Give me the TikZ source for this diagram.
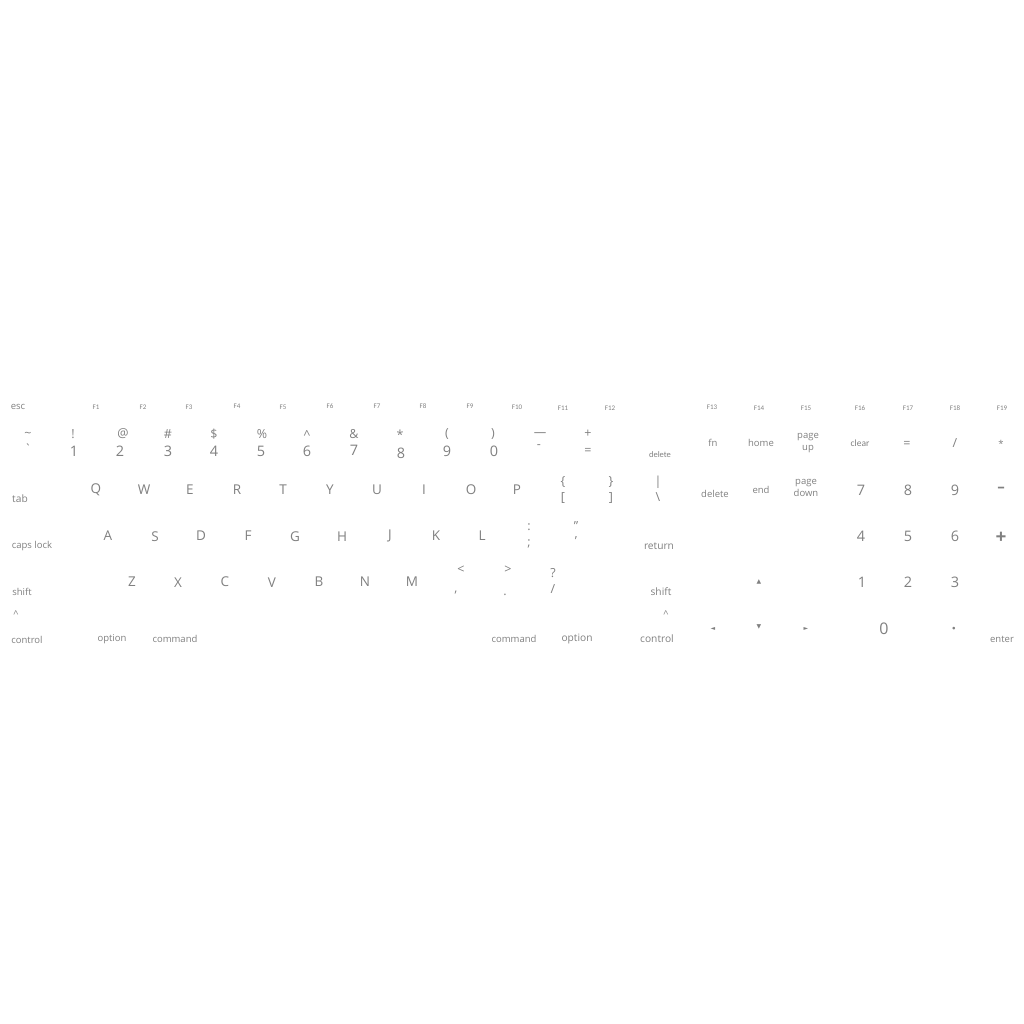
\documentclass[tikz,border=0pt]{standalone}
\usepackage{fontspec}
\setmainfont{Open Sans}
\newfontfamily\rawfont{Open Sans}[Ligatures=ResetAll]
\newfontfamily\fkfont{Carlito}
\newfontfamily\symfont{DejaVu Sans}
\definecolor{keygray}{RGB}{128,128,128}
\begin{document}
\begin{tikzpicture}[x=1pt,y=-1pt,
  every node/.style={text=keygray,inner sep=0pt,outer sep=0pt},
  lbl/.style={font=\fontsize{9.5}{10}\selectfont},
  lblb/.style={font=\fontsize{10.2}{10.5}\selectfont},
  two/.style={font=\fontsize{9.5}{12}\selectfont,align=center},
  fk/.style={font=\fkfont\fontsize{7}{8}\selectfont},
  keyl/.style={font=\fontsize{13.5}{14}\selectfont},
  dig/.style={font=\fontsize{14.5}{15}\selectfont},
  symk/.style={font=\fontsize{12.5}{13}\selectfont},
  arr/.style={font=\symfont\fontsize{6}{7}\selectfont},
]
\useasboundingbox (0,0) rectangle (1024,1024);
% function row
\node[lbl] (esc) at (18,407) {esc};
\node[fk] (f1) at (96,407) {F1};
\node[fk] (f2) at (143,407) {F2};
\node[fk] (f3) at (189,407) {F3};
\node[fk] (f4) at (237,406) {F4};
\node[fk] (f5) at (283,407) {F5};
\node[fk] (f6) at (330,406) {F6};
\node[fk] (f7) at (377,406) {F7};
\node[fk] (f8) at (423,406) {F8};
\node[fk] (f9) at (470,406) {F9};
\node[fk] (f10) at (517,407) {F10};
\node[fk] (f11) at (563,408) {F11};
\node[fk] (f12) at (610,408) {F12};
\node[fk] (f13) at (712,407) {F13};
\node[fk] (f14) at (759,408) {F14};
\node[fk] (f15) at (806,408) {F15};
\node[fk] (f16) at (860,408) {F16};
\node[fk] (f17) at (908,408) {F17};
\node[fk] (f18) at (955,408) {F18};
\node[fk] (f19) at (1002,408) {F19};
% number row
\node[symk] (tilde) at (28,435) {\textasciitilde};
\node[symk,font=\rawfont\fontsize{12.5}{13}\selectfont] (grave) at (28,449) {\char"60};
\node[symk] (excl) at (73,434) {!};
\node[dig] (d1) at (74,451) {1};
\node[symk] (at) at (123,434) {@};
\node[dig] (d2) at (120,451) {2};
\node[symk] (hash) at (168,434) {\#};
\node[dig] (d3) at (168,451) {3};
\node[symk] (dollar) at (214,434) {\$};
\node[dig] (d4) at (214,451) {4};
\node[symk] (pct) at (262,434) {\%};
\node[symk] (caret) at (307,435) {\textasciicircum};
\node[dig] (d5) at (261,451) {5};
\node[dig] (d6) at (307,451) {6};
\node[symk] (amp) at (354,434) {\&};
\node[dig] (d7) at (354,450) {7};
\node[symk] (star) at (400,435) {*};
\node[dig] (d8) at (401,453) {8};
\node[symk] (lpar) at (447,434) {(};
\node[dig] (d9) at (447,451) {9};
\node[symk] (rpar) at (493,434) {)};
\node[dig] (d0) at (494,451) {0};
\node[symk] (under) at (540,435) {—};
\node[symk] (minus) at (539,447) {-};
\node[symk] (plus) at (588,434) {+};
\node[symk] (equal) at (588,451) {=};
\node[fk,font=\fkfont\fontsize{8.5}{9}\selectfont] (del) at (660,455) {delete};
\node[lbl] (fn) at (713,443) {fn};
\node[lbl] (home) at (761,443) {home};
\node[two] (pgup) at (808,443) {page\\up};
\node[fk,font=\fkfont\fontsize{9.5}{10}\selectfont] (clear) at (860,443) {clear};
\node[symk] (npeq) at (907,444) {=};
\node[symk] (npsl) at (955,443) {/};
\node[lbl] (npst) at (1001,444) {*};
% qwerty row
\node[lblb] (tab) at (20,499) {tab};
\node[keyl] (kq) at (96,490) {Q};
\node[keyl] (kw) at (144,490) {W};
\node[keyl] (ke) at (190,490) {E};
\node[keyl] (kr) at (237,490) {R};
\node[keyl] (kt) at (283,490) {T};
\node[keyl] (ky) at (330,490) {Y};
\node[keyl] (ku) at (377,490) {U};
\node[keyl] (ki) at (424,490) {I};
\node[keyl] (ko) at (471,490) {O};
\node[keyl] (kp) at (517,490) {P};
\node[symk] (lbrace) at (563,482) {\{};
\node[symk] (lbrack) at (563,498) {[};
\node[symk] (rbrace) at (611,482) {\}};
\node[symk] (rbrack) at (611,498) {]};
\node[symk] (pipe) at (658,482) {|};
\node[symk] (bslash) at (658,497) {\textbackslash};
\node[lbl] (fdel) at (715,494) {delete};
\node[lbl] (end) at (761,490) {end};
\node[two] (pgdn) at (806,488) {page\\down};
\node[dig] (n7) at (861,490) {7};
\node[dig] (n8) at (908,490) {8};
\node[dig] (n9) at (955,490) {9};
\node[font=\symfont\bfseries\fontsize{10}{10}\selectfont] (nmin) at (1001,489) {━};
% asdf row
\node[lbl] (caps) at (32,546) {caps lock};
\node[keyl] (ka) at (108,536) {A};
\node[keyl] (ks) at (155,537) {S};
\node[keyl] (kd) at (201,536) {D};
\node[keyl] (kf) at (248,536) {F};
\node[keyl] (kg) at (295,537) {G};
\node[keyl] (kh) at (342,537) {H};
\node[keyl] (kj) at (390,536) {J};
\node[keyl] (kk) at (436,536) {K};
\node[keyl] (kl) at (482,536) {L};
\node[symk] (colon) at (529,527) {:};
\node[symk] (semi) at (529,544) {;};
\node[symk] (dquote) at (576,526) {\char"201D};
\node[symk] (squote) at (576,541) {'};
\node[lblb] (ret) at (659,546) {return};
\node[dig] (n4) at (861,536) {4};
\node[dig] (n5) at (908,536) {5};
\node[dig] (n6) at (955,536) {6};
\node[font=\bfseries\fontsize{19}{19}\selectfont] (nplus) at (1001,538) {+};
% zxcv row
\node[lbl] (lshift) at (22,592) {shift};
\node[keyl] (kz) at (132,582) {Z};
\node[keyl] (kx) at (178,583) {X};
\node[keyl] (kc) at (225,582) {C};
\node[keyl] (kv) at (272,583) {V};
\node[keyl] (kb) at (319,582) {B};
\node[keyl] (kn) at (365,582) {N};
\node[keyl] (km) at (412,582) {M};
\node[symk] (lt) at (461,570) {<};
\node[symk] (comma) at (456,593) {,};
\node[symk] (gt) at (508,570) {>};
\node[symk] (period) at (505,595) {.};
\node[symk] (quest) at (553,573) {?};
\node[symk] (slash) at (553,589) {/};
\node[lblb] (rshift) at (661,592) {shift};
\node[arr] (up) at (759,582) {▲};
\node[dig] (n1) at (862,582) {1};
\node[dig] (n2) at (908,582) {2};
\node[dig] (n3) at (955,582) {3};
% bottom row
\node[lbl] (lctlsym) at (16,614) {\textasciicircum};
\node[lbl] (lctl) at (27,640) {control};
\node[lbl] (lopt) at (112,639) {option};
\node[lbl] (lcmd) at (175,639) {command};
\node[lbl] (rcmd) at (514,639) {command};
\node[lblb] (ropt) at (577,639) {option};
\node[lbl] (rctlsym) at (666,614) {\textasciicircum};
\node[lblb] (rctl) at (657,639) {control};
\node[arr] (left) at (713,629) {◄};
\node[arr] (down) at (759,627) {▼};
\node[arr] (right) at (806,629) {►};
\node[font=\fontsize{16}{16}\selectfont] (n0) at (884,629) {0};
\node[font=\symfont\fontsize{3.5}{4}\selectfont] (ndot) at (954,629) {●};
\node[lbl] (enter) at (1002,639) {enter};
\end{tikzpicture}
\end{document}
